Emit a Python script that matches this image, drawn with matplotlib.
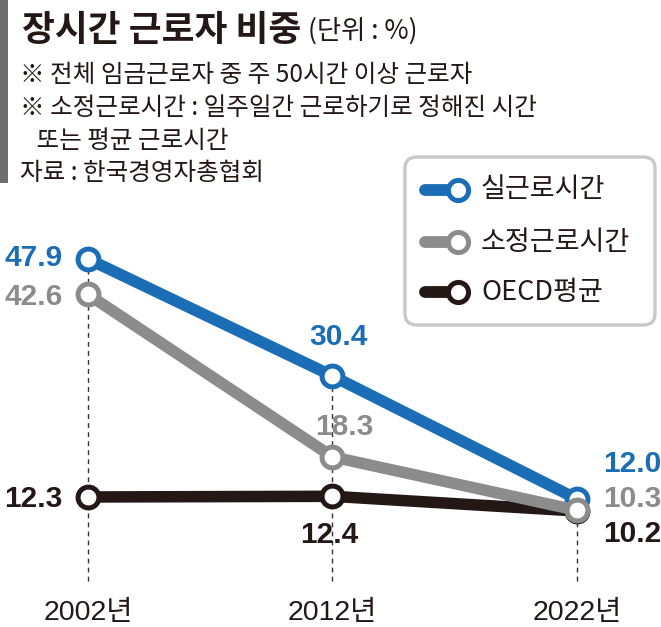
import matplotlib
matplotlib.use('Agg')
import matplotlib.pyplot as plt
from matplotlib.patches import FancyBboxPatch, Rectangle
from matplotlib.lines import Line2D
from matplotlib.transforms import blended_transform_factory

# ---------------- data ----------------
years = ['2002년', '2012년', '2022년']
actual_hours = [47.9, 30.4, 12.0]      # 실근로시간
contract_hours = [42.6, 18.3, 10.3]    # 소정근로시간
oecd_avg = [12.3, 12.4, 10.2]          # OECD평균
series_names = ['실근로시간', '소정근로시간', 'OECD평균']

title = '장시간 근로자 비중'
unit = '(단위 : %)'
notes = ['※ 전체 임금근로자 중 주 50시간 이상 근로자',
         '※ 소정근로시간 : 일주일간 근로하기로 정해진 시간',
         '   또는 평균 근로시간',
         '자료 : 한국경영자총협회']

BLUE = '#1b6db5'
GRAY = '#8c8c8c'
BLACK = '#231815'
KR = ['Noto Sans CJK KR', 'DejaVu Sans']
NUM = ['Liberation Sans', 'Noto Sans CJK KR']

W, H = 661, 627
fig = plt.figure(figsize=(W / 100, H / 100), dpi=100)
fig.patch.set_facecolor('white')
ax = fig.add_axes([0, 0, 1, 1])
ax.set_xlim(-0.3599, 2.3436)
ax.set_ylim(-7.15, 86.64)
ax.axis('off')


def fx(px):
    return px / W


def fy(py):
    return 1 - py / H


x = list(range(len(years)))

# dashed guides
for i in x:
    top = max(actual_hours[i], contract_hours[i], oecd_avg[i])
    ax.vlines(i, -0.3, top, colors='#333333', linestyles=(0, (3.5, 3)),
              linewidth=1.0, zorder=1)

common = dict(marker='o', markersize=15, markeredgewidth=3.6,
              markerfacecolor='white', linewidth=8.3, solid_capstyle='butt')
ax.plot(x, oecd_avg, color=BLACK, zorder=3, **common)
ax.plot(x, actual_hours, color=BLUE, zorder=4, **common)
ax.plot(x, contract_hours, color=GRAY, zorder=5, **common)

# value labels (offsets in points)
lab = dict(fontsize=21.5, fontweight='bold', family=NUM, va='baseline',
           textcoords='offset points')
offs_actual = [(-18, -5.0, 'right'), (4.3, 22.3, 'center'), (18.7, 19.4, 'left')]
offs_contract = [(-18, -7.6, 'right'), (8.6, 15.8, 'center'), (18.7, 2.2, 'left')]
offs_oecd = [(-18.7, -7.3, 'right'), (-2.2, -33.6, 'center'), (18.7, -22.3, 'left')]
for vals, offs, col in [(actual_hours, offs_actual, BLUE),
                        (contract_hours, offs_contract, GRAY),
                        (oecd_avg, offs_oecd, BLACK)]:
    for i, (v, (dx, dy, ha)) in enumerate(zip(vals, offs)):
        ax.annotate(f'{v:.1f}', xy=(i, v), xytext=(dx, dy), ha=ha,
                    color=col, zorder=6, **lab)

# x tick labels
bt = blended_transform_factory(ax.transData, fig.transFigure)
for i, yl in enumerate(years):
    ax.text(i, fy(620), yl, transform=bt, ha='center', va='baseline',
            fontsize=20.5, family=NUM, color=BLACK)

# left bar
fig.patches.append(Rectangle((0, fy(183)), fx(8), 183 / H, transform=fig.transFigure,
                             facecolor='#6e6e6e', edgecolor='none'))

# title
t = fig.text(fx(22), fy(41), title, fontsize=25.7, fontweight='bold', family=KR,
             color=BLACK, ha='left', va='baseline')
fig.canvas.draw()
bb = t.get_window_extent(fig.canvas.get_renderer())
fig.text((bb.x1 + 7) / W, fy(39), unit, fontsize=19, family=KR, color=BLACK,
         ha='left', va='baseline')

for k, (s, yb) in enumerate(zip(notes, [82, 115, 148, 180])):
    fig.text(fx(20), fy(yb), s, fontsize=17.7, family=KR, color=BLACK,
             ha='left', va='baseline')

# legend
box = FancyBboxPatch((fx(405), fy(325)), fx(250), 168 / H,
                     boxstyle='round,pad=0,rounding_size=0.018',
                     transform=fig.transFigure, facecolor='white',
                     edgecolor='#c8c8c8', linewidth=2.4, zorder=7)
fig.patches.append(box)
for name, col, yc in zip(series_names, [BLUE, GRAY, BLACK], [190, 242, 292]):
    fig.lines.append(Line2D([fx(425), fx(458)], [fy(yc), fy(yc)], color=col,
                            linewidth=8.5, solid_capstyle='round',
                            transform=fig.transFigure, zorder=8))
    fig.lines.append(Line2D([fx(458)], [fy(yc)], marker='o', markersize=14.5,
                            markeredgewidth=3.6, markerfacecolor='white',
                            markeredgecolor=col, transform=fig.transFigure, zorder=9))
    fig.text(fx(481), fy(yc), name, fontsize=19.5, fontweight='medium', family=KR,
             color=BLACK, ha='left', va='center', zorder=9)

fig.savefig('out.png', dpi=100, facecolor='white')
